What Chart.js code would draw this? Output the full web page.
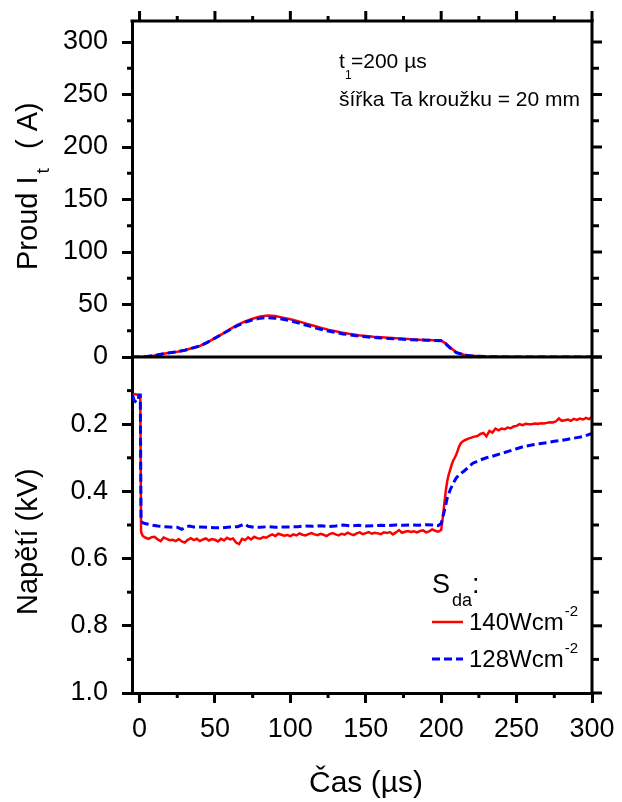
<!DOCTYPE html>
<html>
<head>
<meta charset="utf-8">
<script src="https://cdn.jsdelivr.net/npm/chart.js"></script>
<style>
html,body{margin:0;padding:0;background:#fff;}
#wrap{width:622px;height:802px;position:relative;}
</style>
</head>
<body>
<div id="wrap"><canvas id="c"></canvas></div>
<script>
// ---------- DATA ----------
const xTicks = [0, 50, 100, 150, 200, 250, 300];
const xMinor = [25, 75, 125, 175, 225, 275];
const iTicks = [0, 50, 100, 150, 200, 250, 300];
const iMinor = [25, 75, 125, 175, 225, 275];
const uTicks = [0, 0.2, 0.4, 0.6, 0.8, 1.0];
const uMinor = [0.1, 0.3, 0.5, 0.7, 0.9];

// current (A) vs time (us)
const currT = [-5,0,5,10,15,20,25,30,35,40,45,50,55,60,65,70,75,80,85,90,95,100,105,110,115,120,125,130,135,140,145,150,155,160,165,170,175,180,185,190,195,200,203,206,210,215,220,230,240,250,300];
const currRed = [0,0,0.5,1.5,2.8,4,5,6.5,8.5,10.5,14,18,22,26.5,30.5,34,36.5,38.5,39.5,39,37.5,36,34,32,30,28,26,24.5,23,21.8,20.8,20,19.3,18.8,18.3,17.9,17.5,16.8,16.5,16.2,15.9,15.6,13,9,4.5,2.2,1.2,0.5,0.2,0,0];
const currBlue = [0,0,0.5,1.5,2.8,4,5,6.5,8.5,10.5,14,18,22,26,30,33,35.5,37,37.5,37,36,34.5,32.5,30.5,28.5,26.5,24.8,23.3,22,21,20,19.2,18.6,18.1,17.6,17.2,16.8,16.5,16.2,16,15.7,15.5,12.5,8.5,4.2,2,1,0.4,0.1,0,0];

// voltage (kV) vs time (us), 140 W/cm2
const uRedT = [-4.5,-3,-1,0.5,1,
 2,4,6,8,10,12,14,16,18,20,
 22,24,26,28,30,32,34,36,38,40,
 42,44,46,48,50,52,54,56,58,60,
 62,64,66,68,70,72,74,76,78,80,
 82,84,86,88,90,92,94,96,98,100,
 102,104,106,108,110,112,114,116,118,120,
 122,124,126,128,130,132,134,136,138,140,
 142,144,146,148,150,152,154,156,158,160,
 162,164,166,168,170,172,174,176,178,180,
 182,184,186,188,190,192,194,196,198,
 200,201,202,203,204,205,206,207,208,209,210,211,212,213,214,
 216,218,220,222,224,226,228,230,232,234,
 236,238,240,242,244,246,248,250,252,254,
 256,258,260,262,264,266,268,270,272,274,
 276,278,280,282,284,286,288,290,292,294,
 296,298,300];
const uRed = [0.112,0.11,0.113,0.117,0.52,
 0.532,0.538,0.541,0.536,0.535,0.543,0.548,0.537,0.541,0.545,
 0.544,0.548,0.542,0.549,0.552,0.544,0.539,0.545,0.541,0.548,
 0.543,0.54,0.546,0.542,0.544,0.549,0.541,0.546,0.538,0.543,
 0.54,0.552,0.557,0.541,0.545,0.537,0.543,0.535,0.539,0.541,
 0.536,0.538,0.532,0.528,0.533,0.526,0.529,0.532,0.53,0.533,
 0.528,0.531,0.525,0.529,0.531,0.527,0.524,0.528,0.53,0.526,
 0.529,0.533,0.527,0.524,0.528,0.531,0.526,0.529,0.523,0.527,
 0.53,0.525,0.522,0.527,0.524,0.521,0.526,0.523,0.525,0.527,
 0.522,0.524,0.521,0.528,0.522,0.515,0.523,0.52,0.518,0.521,
 0.519,0.522,0.518,0.516,0.522,0.519,0.513,0.517,0.52,
 0.515,0.48,0.44,0.4,0.37,0.35,0.335,0.32,0.308,0.3,0.29,0.278,0.265,0.257,0.252,
 0.247,0.243,0.24,0.237,0.235,0.229,0.226,0.236,0.22,0.225,
 0.213,0.218,0.213,0.215,0.21,0.212,0.207,0.205,0.2,0.203,
 0.199,0.2,0.2,0.198,0.199,0.197,0.198,0.196,0.194,0.195,
 0.192,0.183,0.19,0.188,0.186,0.19,0.184,0.187,0.183,0.186,
 0.181,0.185,0.178];

// voltage (kV) vs time (us), 128 W/cm2
const uBlueT = [-4.5,-3.5,-2,-1,-0.3,0.5,
 1,3,5,8,12,16,20,25,28,30,
 33,36,40,45,50,55,60,65,68,70,
 72,76,80,85,90,95,100,105,110,115,
 120,125,130,135,140,145,150,155,160,165,
 170,175,180,185,190,195,198,200,202,204,
 206,208,210,212,215,218,221,225,230,235,
 240,245,250,255,260,265,270,275,280,285,
 290,295,300];
const uBlue = [0.115,0.13,0.135,0.128,0.113,0.113,
 0.49,0.495,0.497,0.5,0.503,0.505,0.506,0.507,0.513,0.507,
 0.503,0.506,0.506,0.507,0.508,0.508,0.506,0.505,0.5,0.497,
 0.504,0.507,0.507,0.505,0.507,0.506,0.506,0.505,0.503,0.504,
 0.502,0.505,0.503,0.5,0.503,0.501,0.503,0.502,0.501,0.502,
 0.5,0.501,0.5,0.501,0.499,0.5,0.502,0.495,0.46,0.42,
 0.395,0.376,0.36,0.35,0.34,0.328,0.316,0.308,0.3,0.294,
 0.287,0.28,0.273,0.266,0.262,0.258,0.255,0.251,0.248,0.244,
 0.24,0.236,0.227];

const seriesLabels = ['140Wcm', '128Wcm'];
const RED = '#ff0000', BLUE = '#0000ff';
const FONT = '"Liberation Sans", Arial, sans-serif';

const zip = (t, v) => t.map((x, i) => ({x: x, y: v[i]}));

// ---------- helper plugin: frame, minor ticks, titles, annotations, legend ----------
const MAJ = 10, MIN = 5;
const decor = {
  id: 'decor',
  afterDraw(chart) {
    const {ctx, chartArea: a, scales} = chart;
    const x = scales.x, yT = scales.yTop, yB = scales.yBot;
    ctx.save();
    ctx.strokeStyle = '#000';
    ctx.lineWidth = 3;
    ctx.lineCap = 'butt';
    const L = (x1, y1, x2, y2) => { ctx.beginPath(); ctx.moveTo(x1, y1); ctx.lineTo(x2, y2); ctx.stroke(); };
    // frame
    L(a.left - 1.5, a.top, a.right + 1.5, a.top);
    L(a.right, a.top - 1.5, a.right, a.bottom + 1.5);
    // separator between panels
    const y0 = yT.getPixelForValue(0);
    L(a.left, y0, a.right, y0);
    // top ticks
    xTicks.forEach(v => { const p = x.getPixelForValue(v); L(p, a.top, p, a.top - MAJ); });
    xMinor.forEach(v => { const p = x.getPixelForValue(v); L(p, a.top, p, a.top - MIN); L(p, a.bottom, p, a.bottom + MIN); });
    // right ticks
    iTicks.forEach(v => { const p = yT.getPixelForValue(v); L(a.right, p, a.right + MAJ, p); });
    iMinor.forEach(v => { const p = yT.getPixelForValue(v); L(a.right, p, a.right + MIN + 2, p); L(a.left, p, a.left - MIN, p); });
    uTicks.forEach(v => { const p = yB.getPixelForValue(v); L(a.right, p, a.right + MAJ, p); });
    uMinor.forEach(v => { const p = yB.getPixelForValue(v); L(a.right, p, a.right + MIN + 2, p); L(a.left, p, a.left - MIN, p); });

    ctx.fillStyle = '#000';
    ctx.textBaseline = 'alphabetic';
    ctx.textAlign = 'left';
    // y title top
    ctx.save();
    ctx.translate(37, 270);
    ctx.rotate(-Math.PI / 2);
    ctx.font = '29px ' + FONT;
    ctx.fillText('Proud I', 0, 0);
    let w = ctx.measureText('Proud I').width;
    ctx.font = '19px ' + FONT;
    ctx.fillText('t', w + 3, 12);
    ctx.font = '29px ' + FONT;
    ctx.fillText('( A)', 121, 0);
    ctx.restore();
    // y title bottom
    ctx.save();
    ctx.translate(37, 615);
    ctx.rotate(-Math.PI / 2);
    ctx.font = '29px ' + FONT;
    ctx.fillText('Napětí (kV)', 0, 0);
    ctx.restore();
    // x title
    ctx.font = '30px ' + FONT;
    ctx.textAlign = 'center';
    ctx.fillText('Čas (µs)', (a.left + a.right) / 2 + 4, 792);
    ctx.textAlign = 'left';
    // annotations
    ctx.font = '21px ' + FONT;
    ctx.fillText('t', 339, 68);
    ctx.font = '12px ' + FONT;
    ctx.fillText('1', 345, 79);
    ctx.font = '21px ' + FONT;
    ctx.fillText('=200 µs', 351, 68);
    ctx.fillText('šířka Ta kroužku = 20 mm', 339, 106);
    // legend
    ctx.font = '27px ' + FONT;
    ctx.fillText('S', 432, 593);
    ctx.font = '18px ' + FONT;
    ctx.fillText('da', 452, 606);
    ctx.font = '27px ' + FONT;
    ctx.fillText(':', 472, 593);
    const entries = [[RED, [], 2.5, 622, 630], [BLUE, [8, 4], 3, 659, 667]];
    entries.forEach((e, i) => {
      ctx.strokeStyle = e[0];
      ctx.lineWidth = e[2];
      ctx.setLineDash(e[1]);
      L(432, e[3], 463, e[3]);
      ctx.setLineDash([]);
      ctx.font = '24px ' + FONT;
      ctx.fillText(seriesLabels[i], 469, e[4]);
      const tw = ctx.measureText(seriesLabels[i]).width;
      ctx.font = '15px ' + FONT;
      ctx.fillText('-2', 469 + tw + 1, e[4] - 14);
    });
    ctx.restore();
  }
};

const axisCommon = {
  border: {display: true, width: 3, color: '#000'},
  grid: {drawOnChartArea: false, drawTicks: true, tickLength: MAJ, tickWidth: 3, tickColor: '#000', lineWidth: 3, color: '#000'},
  ticks: {color: '#000', font: {family: FONT, size: 27}}
};
const noPad = s => { s.paddingTop = 0; s.paddingBottom = 0; s.paddingLeft = 0; s.paddingRight = 0; };

new Chart(document.getElementById('c'), {
  type: 'line',
  data: {
    datasets: [
      {label: '128Wcm-2 I', data: zip(currT, currBlue), yAxisID: 'yTop', borderColor: BLUE, borderWidth: 3, borderDash: [8, 4], pointRadius: 0, tension: 0, fill: false},
      {label: '140Wcm-2 I', data: zip(currT, currRed), yAxisID: 'yTop', borderColor: RED, borderWidth: 2.5, pointRadius: 0, tension: 0, fill: false},
      {label: '128Wcm-2 U', data: zip(uBlueT, uBlue), yAxisID: 'yBot', borderColor: BLUE, borderWidth: 3, borderDash: [8, 4], pointRadius: 0, tension: 0, fill: false},
      {label: '140Wcm-2 U', data: zip(uRedT, uRed), yAxisID: 'yBot', borderColor: RED, borderWidth: 2.5, pointRadius: 0, tension: 0, fill: false}
    ]
  },
  options: {
    responsive: true,
    maintainAspectRatio: false,
    animation: false,
    layout: {padding: {top: 21, right: 30, left: 0, bottom: 0}},
    plugins: {legend: {display: false}, tooltip: {enabled: false}},
    scales: {
      x: {
        type: 'linear', position: 'bottom', min: -5, max: 300,
        border: axisCommon.border, grid: axisCommon.grid,
        ticks: Object.assign({}, axisCommon.ticks, {padding: 10, maxRotation: 0, autoSkip: false}),
        afterBuildTicks: s => { s.ticks = xTicks.map(v => ({value: v})); },
        afterFit: s => { s.height = 109; noPad(s); }
      },
      yTop: {
        type: 'linear', position: 'left', stack: 'v', stackWeight: 1, weight: 1,
        min: 0, max: 320,
        border: axisCommon.border, grid: axisCommon.grid,
        ticks: Object.assign({}, axisCommon.ticks, {padding: 14, autoSkip: false}),
        afterBuildTicks: s => { s.ticks = iTicks.map(v => ({value: v})); },
        afterFit: s => { s.width = 132; noPad(s); }
      },
      yBot: {
        type: 'linear', position: 'left', stack: 'v', stackWeight: 1, weight: 0,
        min: 0, max: 1, reverse: true,
        border: axisCommon.border, grid: axisCommon.grid,
        ticks: Object.assign({}, axisCommon.ticks, {padding: 14, autoSkip: false,
          callback: v => (v === 0 ? '' : v.toFixed(1))}),
        afterBuildTicks: s => { s.ticks = uTicks.map(v => ({value: v})); },
        afterFit: s => { s.width = 132; noPad(s); }
      }
    }
  },
  plugins: [decor]
});
</script>
</body>
</html>
